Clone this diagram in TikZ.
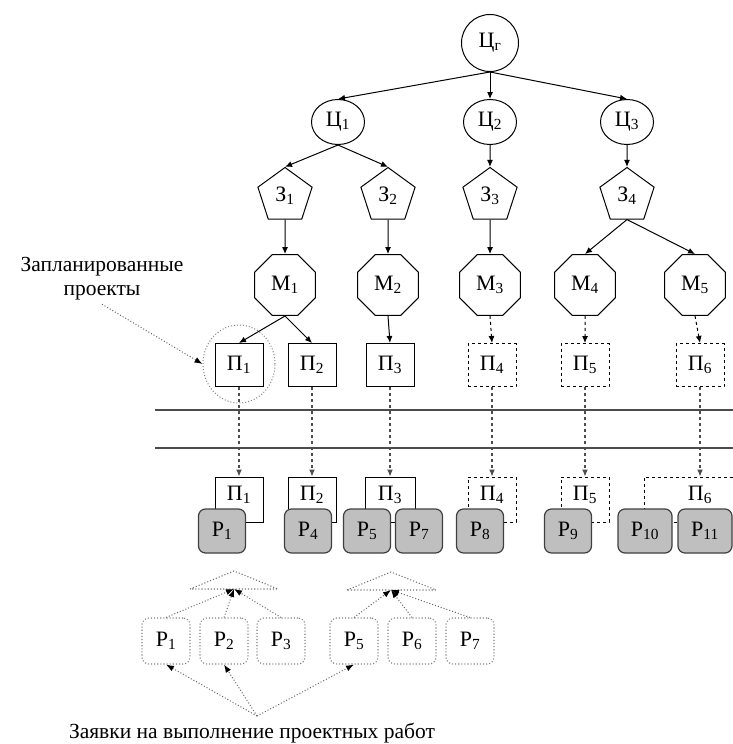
\documentclass[tikz,border=0pt]{standalone}
\usepackage{fontspec}
\setmainfont{Liberation Serif}
\usetikzlibrary{shapes.geometric,arrows.meta}

\begin{document}
\begin{tikzpicture}[x=1pt,y=-1pt,>={Latex[length=7pt,width=6pt]},line width=1pt,font=\fontsize{22}{24}\selectfont,
    root/.style={draw,circle,minimum size=57pt,inner sep=0pt},
    goal/.style={draw,ellipse,minimum width=53pt,minimum height=45pt,inner sep=0pt},
    task/.style={draw,regular polygon,regular polygon sides=5,minimum size=57pt,inner sep=0pt},
    meth/.style={draw,regular polygon,regular polygon sides=8,minimum size=66pt,inner sep=0pt},
    proj/.style={draw,minimum width=48pt,minimum height=43pt,inner sep=0pt},
    dproj/.style={proj,dashed},
    plan/.style={draw,minimum width=48pt,minimum height=45pt,inner sep=0pt,text depth=12pt},
    res/.style={draw=black!75,fill=black!25,line width=1.2pt,rounded corners=7pt,minimum width=47pt,minimum height=44pt,inner sep=0pt},
    req/.style={draw=black!50,dotted,line width=1.1pt,rounded corners=7pt,minimum width=48pt,minimum height=46pt,inner sep=0pt},
    flow/.style={dashed,black!70,line width=1.1pt,-{Latex[length=7pt,width=6pt]}},
    hint/.style={dotted,black!60,line width=1pt,-{Latex[length=8pt,width=6pt,black]}},
    divider/.style={black!70,line width=1.8pt}]
    \useasboundingbox (0,0) rectangle (733,744);

    % goals, tasks, methods
    \node[root] (cg) at (490,43) {Ц\textsubscript{г}};
    \node[goal] (c1) at (338,122) {Ц\textsubscript{1}};
    \node[goal] (c2) at (490,122) {Ц\textsubscript{2}};
    \node[goal] (c3) at (627,122) {Ц\textsubscript{3}};
    \node[task] (z1) at (285,196) {З\textsubscript{1}};
    \node[task] (z2) at (388,196) {З\textsubscript{2}};
    \node[task] (z3) at (490,196) {З\textsubscript{3}};
    \node[task] (z4) at (627,196) {З\textsubscript{4}};
    \node[meth] (m1) at (285,285) {М\textsubscript{1}};
    \node[meth] (m2) at (388,285) {М\textsubscript{2}};
    \node[meth] (m3) at (490,285) {М\textsubscript{3}};
    \node[meth] (m4) at (585,285) {М\textsubscript{4}};
    \node[meth] (m5) at (695,285) {М\textsubscript{5}};

    % projects
    \node[proj] (p1) at (239,365) {П\textsubscript{1}};
    \node[proj] (p2) at (312,365) {П\textsubscript{2}};
    \node[proj] (p3) at (390,365) {П\textsubscript{3}};
    \node[dproj] (p4) at (492,365) {П\textsubscript{4}};
    \node[dproj] (p5) at (585,365) {П\textsubscript{5}};
    \node[dproj] (p6) at (700,365) {П\textsubscript{6}};
    \node[draw=black!50,dotted,line width=1pt,ellipse,minimum width=72pt,minimum height=78pt] (ring) at (239,364) {};
    \node[align=center,font=\fontsize{21.5}{24}\selectfont] (lbl) at (102,279) {Запланированные\\проекты};

    \draw[->] (cg.south) to (c1.north); \draw[->] (cg.south) to (c2.north); \draw[->] (cg.south) to (c3.north);
    \draw[->] (c1.south) to (z1.north); \draw[->] (c1.south) to (z2.north); \draw[->] (c2.south) to (z3.north); \draw[->] (c3.south) to (z4.north);
    \draw[->] (z1.south) to (m1.north); \draw[->] (z2.south) to (m2.north); \draw[->] (z3.south) to (m3.north);
    \draw[->] (z4.south) to (m4.north); \draw[->] (z4.south) to (m5.north);
    \draw[->] (m1.south) to (p1.north); \draw[->] (m1.south) to (p2.north); \draw[->] (m2.south) to (p3.north);
    \draw[->,dashed] (m3.south) to (p4.north); \draw[->,dashed] (m4.south) to (p5.north); \draw[->,dashed] (m5.south) to (p6.north);
    \draw[hint] (lbl.south) to (ring.west);

    \draw[divider] (155,410) -- (733,410);
    \draw[divider] (155,448) -- (733,448);

    % accepted projects with their works
    \node[plan] (q1) at (239,499.5) {П\textsubscript{1}};
    \node[plan] (q2) at (312,499.5) {П\textsubscript{2}};
    \node[plan,minimum width=50pt] (q3) at (390,499.5) {П\textsubscript{3}};
    \node[plan,dashed] (q4) at (492,499.5) {П\textsubscript{4}};
    \node[plan,dashed] (q5) at (585,499.5) {П\textsubscript{5}};
    \node[plan,dashed,minimum width=112pt] (q6) at (700,499.5) {П\textsubscript{6}};
    \node[res] (r1) at (222,531) {Р\textsubscript{1}};
    \node[res] (r4) at (308,531) {Р\textsubscript{4}};
    \node[res] (r5) at (367,531) {Р\textsubscript{5}};
    \node[res] (r7) at (419,531) {Р\textsubscript{7}};
    \node[res] (r8) at (480,531) {Р\textsubscript{8}};
    \node[res] (r9) at (568,531) {Р\textsubscript{9}};
    \node[res,minimum width=54pt] (r10) at (645,531) {Р\textsubscript{10}};
    \node[res,minimum width=54pt] (r11) at (705,531) {Р\textsubscript{11}};

    \draw[flow] (p1) to (q1); \draw[flow] (p2) to (q2); \draw[flow] (p3) to (q3);
    \draw[flow] (p4) to (q4); \draw[flow] (p5) to (q5); \draw[flow] (p6) to (q6);

    % requests
    \draw[black!55,dotted,line width=1.1pt] (190,589) -- (234,571) -- (278,589) -- cycle;
    \draw[black!55,dotted,line width=1.1pt] (347,590) -- (391,572) -- (436,590) -- cycle;
    \coordinate (j1) at (234,589);
    \coordinate (j2) at (391,590);
    \node[req] (a1) at (166,641) {Р\textsubscript{1}};
    \node[req] (a2) at (224,641) {Р\textsubscript{2}};
    \node[req] (a3) at (281,641) {Р\textsubscript{3}};
    \node[req] (a5) at (354,641) {Р\textsubscript{5}};
    \node[req] (a6) at (412,641) {Р\textsubscript{6}};
    \node[req] (a7) at (470,641) {Р\textsubscript{7}};
    \node[font=\fontsize{21.5}{24}\selectfont] (apps) at (252,733) {Заявки на выполнение проектных работ};
    \coordinate (fork) at (257,716);

    \draw[hint] (a1.north) to (j1); \draw[hint] (a2.north) to (j1); \draw[hint] (a3.north) to (j1);
    \draw[hint] (a5.north) to (j2); \draw[hint] (a6.north) to (j2); \draw[hint] (a7.north) to (j2);
    \draw[hint] (fork) to (a1.south); \draw[hint] (fork) to (a2.south); \draw[hint] (fork) to (a5.south);
\end{tikzpicture}
\end{document}
